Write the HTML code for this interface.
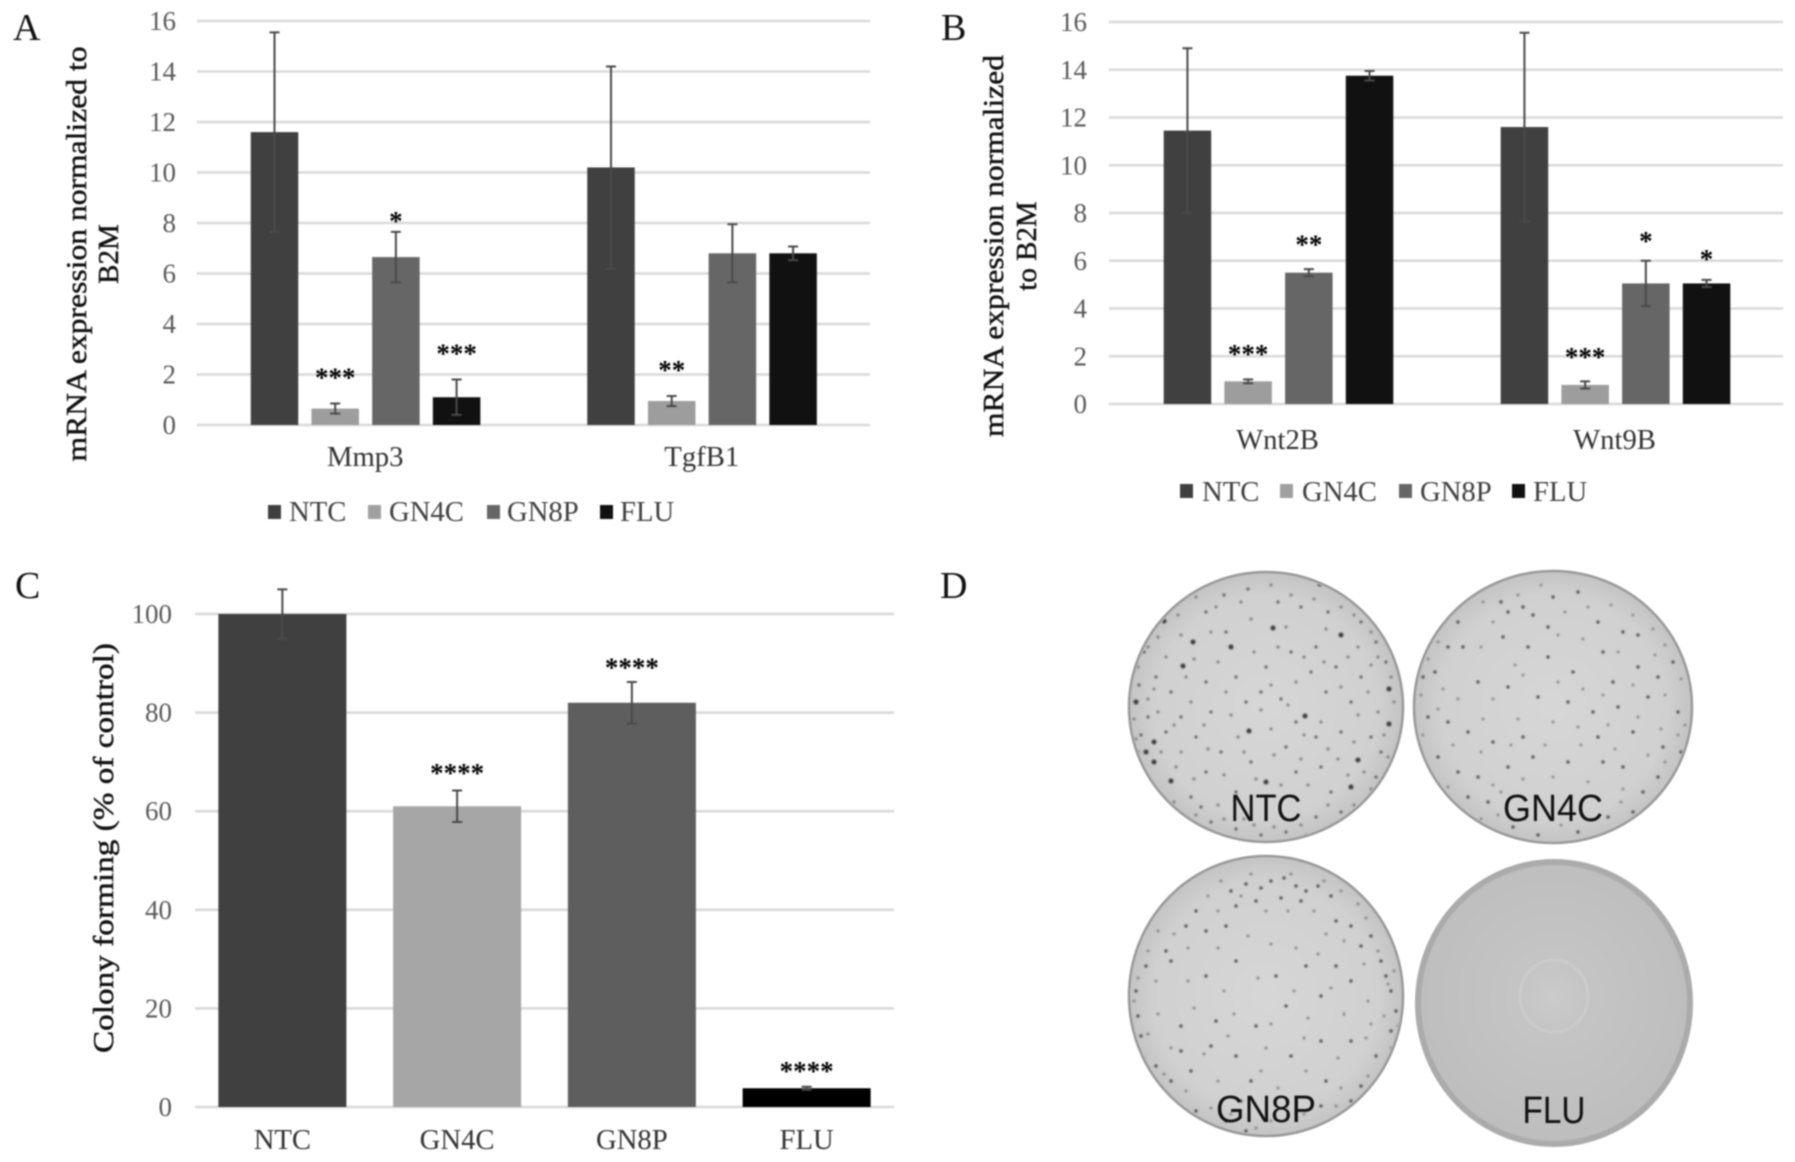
<!DOCTYPE html>
<html lang="en">
<head>
<meta charset="utf-8">
<title>Colony forming and mRNA expression figure</title>
<style>
html,body{margin:0;padding:0;background:#fff;width:1795px;height:1162px;overflow:hidden}
svg{display:block;filter:blur(.7px)}
text{font-family:"Liberation Serif",serif}
.tick{font-size:27px;fill:#595959}
.cat{font-size:28.7px;fill:#333;text-anchor:middle}
.leg{font-size:28.7px;fill:#404040}
.title{font-size:29px;fill:#111;stroke:#111;stroke-width:.45px;text-anchor:middle}
.panel{font-size:38px;fill:#111}
.sig{font-size:27px;font-weight:bold;fill:#000;text-anchor:middle}
.dishlabel{font-family:"Liberation Sans",sans-serif;font-size:38px;fill:#111;text-anchor:middle}
.dots{filter:blur(.7px)}
</style>
</head>
<body>
<svg id="fig" xmlns="http://www.w3.org/2000/svg" width="1795" height="1162" viewBox="0 0 1795 1162">
<defs>
<radialGradient id="dishFill" cx="50%" cy="50%" r="55%"><stop offset="0" stop-color="#d6d6d6"/><stop offset=".75" stop-color="#d0d0d0"/><stop offset="1" stop-color="#bcbcbc"/></radialGradient>
<radialGradient id="fluFill" cx="50%" cy="48%" r="55%"><stop offset="0" stop-color="#cacaca"/><stop offset=".25" stop-color="#c4c4c4"/><stop offset="1" stop-color="#bdbdbd"/></radialGradient>
<clipPath id="clipNtc"><ellipse rx="135" ry="133"/></clipPath>
<clipPath id="clipGn4c"><ellipse rx="137" ry="134"/></clipPath>
<clipPath id="clipGn8p"><ellipse rx="135" ry="138"/></clipPath>
</defs>

<g id="panelA"></g>
<g id="panelB"></g>
<g id="panelC"></g>

<text class="panel" x="13" y="40">A</text>
<text class="panel" x="941" y="40">B</text>
<text class="panel" x="15" y="598">C</text>
<text class="panel" x="940" y="598">D</text>

<text class="title" transform="translate(86,254) rotate(-90)" textLength="415" lengthAdjust="spacingAndGlyphs">mRNA expression normalized to</text>
<text class="title" transform="translate(118,254) rotate(-90)">B2M</text>
<text class="title" transform="translate(1003,246) rotate(-90)" textLength="382" lengthAdjust="spacingAndGlyphs">mRNA expression normalized</text>
<text class="title" transform="translate(1036,246) rotate(-90)">to B2M</text>
<text class="title" transform="translate(113,848) rotate(-90)" textLength="410" lengthAdjust="spacingAndGlyphs">Colony forming (% of control)</text>

<g>
<g><rect x="268" y="505" width="13" height="14" fill="#404040"/><text class="leg" x="289" y="521">NTC</text></g>
<g><rect x="368" y="505" width="13" height="14" fill="#a0a0a0"/><text class="leg" x="389" y="521">GN4C</text></g>
<g><rect x="487" y="505" width="13" height="14" fill="#666"/><text class="leg" x="507" y="521">GN8P</text></g>
<g><rect x="600" y="505" width="13" height="14" fill="#111"/><text class="leg" x="620" y="521">FLU</text></g>
</g>
<g>
<g><rect x="1180" y="484" width="13" height="14" fill="#404040"/><text class="leg" x="1202" y="501">NTC</text></g>
<g><rect x="1280" y="484" width="13" height="14" fill="#a0a0a0"/><text class="leg" x="1302" y="501">GN4C</text></g>
<g><rect x="1399" y="484" width="13" height="14" fill="#666"/><text class="leg" x="1420" y="501">GN8P</text></g>
<g><rect x="1512" y="484" width="13" height="14" fill="#111"/><text class="leg" x="1533" y="501">FLU</text></g>
</g>

<g>
<g transform="translate(1266,707)">
<ellipse rx="137" ry="135" fill="url(#dishFill)" stroke="#999" stroke-width="2.5"/>
<g clip-path="url(#clipNtc)">
<path class="dots" fill="none" stroke="#7a7a7a" stroke-width="3" stroke-linecap="round" d="M-70 -110h0M-50 -100h0M-25 -105h0M5 -122h0M25 -112h0M48 -108h0M75 -100h0M88 -92h0M105 -75h0M-88 -92h0M-108 -70h0M-118 -60h0M-128 -40h0M-85 -72h0M-55 -75h0M-15 -88h0M20 -80h0M60 -78h0M92 -60h0M112 -50h0M-100 -50h0M-72 -48h0M-48 -45h0M-12 -55h0M12 -60h0M38 -50h0M58 -45h0M82 -50h0M105 -42h0M125 -30h0M-112 -18h0M-80 -30h0M-40 -15h0M5 -22h0M30 -25h0M75 -20h0M102 -15h0M128 -5h0M-118 -8h0M-75 -5h0M-35 8h0M-5 3h0M22 -2h0M55 15h0M92 8h0M112 5h0M-132 12h0M-108 5h0M-92 18h0M-62 18h0M-28 30h0M5 22h0M38 28h0M62 42h0M88 35h0M118 28h0M-130 32h0M-105 45h0M-85 45h0M-58 42h0M-22 45h0M8 48h0M35 52h0M72 52h0M98 65h0M122 50h0M-118 68h0M-90 60h0M-72 72h0M-42 68h0M-10 72h0M15 78h0M42 78h0M82 68h0M105 82h0M-110 82h0M-92 95h0M-70 108h0M-48 98h0M-42 112h0M-22 112h0M-12 118h0M8 120h0M35 118h0M62 98h0M88 98h0M40 128h0"/>
<path class="dots" fill="none" stroke="#3a3a3a" stroke-width="5" stroke-linecap="round" d="M-35 -60h0M-73 -65h0M7 -79h0M75 -72h0M-112 35h0M-95 74h0M92 53h0M123 -18h0M123 17h0M-83 -41h0M39 9h0M-17 24h0M0 75h0M85 80h0M-130 -5h0M-102 -86h0M54 -123h0M-120 45h0M-112 55h0"/>
<path class="dots" fill="none" stroke="#555" stroke-width="3" stroke-linecap="round" d="M-60 -95h0M-42 -112h0M-18 -118h0M12 -105h0M35 -100h0M62 -95h0M95 -85h0M110 -65h0M120 -45h0M-122 -55h0M-110 -30h0M-127 -22h0M-95 -15h0M-60 -25h0M-30 -30h0M0 -40h0M25 -55h0M45 -35h0M70 -40h0M95 -30h0M60 -15h0M15 -8h0M-20 -5h0M-55 5h0M-85 10h0M-118 10h0M-125 28h0M-100 25h0M-70 30h0M-45 45h0M-15 55h0M20 40h0M50 30h0M75 25h0M105 30h0M115 45h0M-128 45h0M-125 60h0M-105 90h0M-75 90h0M-60 65h0M-30 85h0M30 65h0M55 60h0M65 85h0M100 95h0M-85 108h0M-55 115h0M-30 122h0M-5 128h0M20 125h0M50 110h0M75 105h0M-65 100h0M110 70h0M-40 -75h0M50 -60h0M-5 -15h0M30 15h0M85 -5h0"/>
</g>
<text class="dishlabel" x="0" y="114" textLength="71" lengthAdjust="spacingAndGlyphs">NTC</text>
</g>
<g transform="translate(1553,707)">
<ellipse rx="139" ry="136" fill="url(#dishFill)" stroke="#999" stroke-width="2.5"/>
<g clip-path="url(#clipGn4c)">
<path class="dots" fill="none" stroke="#808080" stroke-width="2.8" stroke-linecap="round" d="M-70 -105h0M-60 -85h0M-35 -112h0M-12 -122h0M12 -95h0M35 -100h0M58 -102h0M80 -92h0M100 -78h0M112 -62h0M-115 -65h0M-125 -48h0M-72 -60h0M-38 -42h0M5 -72h0M30 -68h0M65 -55h0M102 -52h0M128 -28h0M-110 -18h0M-95 -8h0M-60 -8h0M-30 -32h0M5 -25h0M30 -18h0M50 -12h0M80 -22h0M112 -12h0M-132 -12h0M-115 2h0M-70 12h0M-35 12h0M0 15h0M25 20h0M55 18h0M85 10h0M108 22h0M132 18h0M-130 28h0M-100 38h0M-72 45h0M-42 38h0M-8 38h0M28 38h0M62 42h0M95 48h0M125 28h0M-125 62h0M-105 80h0M-60 78h0M-30 72h0M0 70h0M35 75h0M70 82h0M112 55h0M-95 102h0M-72 112h0M-55 108h0M-28 112h0M8 118h0M38 112h0M68 95h0M102 92h0M-52 85h0"/>
<path class="dots" fill="none" stroke="#4a4a4a" stroke-width="3.2" stroke-linecap="round" d="M-45 -95h0M-30 -100h0M-20 -92h0M-52 -105h0M0 -110h0M25 -115h0M45 -85h0M70 -75h0M85 -72h0M-95 -85h0M-105 -60h0M-90 -60h0M-130 -30h0M-118 -35h0M-50 -70h0M-25 -60h0M-5 -50h0M20 -35h0M50 -55h0M85 -40h0M105 -30h0M120 -45h0M-75 -25h0M-45 -20h0M-15 -10h0M15 -5h0M40 5h0M65 0h0M95 -10h0M125 5h0M-125 10h0M-105 15h0M-85 25h0M-60 35h0M-30 30h0M45 30h0M80 25h0M110 40h0M128 45h0M-115 50h0M-95 65h0M-75 70h0M-45 60h0M-20 50h0M15 55h0M50 55h0M70 60h0M105 70h0M90 85h0M-65 95h0M-85 90h0M-40 120h0M-15 128h0M25 125h0M55 110h0M80 105h0M-5 -80h0M60 -25h0"/>
</g>
<text class="dishlabel" x="0" y="114" textLength="100" lengthAdjust="spacingAndGlyphs">GN4C</text>
</g>
<g transform="translate(1266,996)">
<ellipse rx="137" ry="140" fill="url(#dishFill)" stroke="#999" stroke-width="2.5"/>
<g clip-path="url(#clipGn8p)">
<path class="dots" fill="none" stroke="#7c7c7c" stroke-width="2.8" stroke-linecap="round" d="M-45 -115h0M-15 -122h0M25 -122h0M58 -115h0M75 -105h0M92 -92h0M-58 -100h0M-48 -85h0M-25 -100h0M0 -85h0M22 -85h0M48 -85h0M60 -62h0M78 -55h0M100 -78h0M112 -45h0M128 -25h0M-108 -65h0M-92 -62h0M-118 -45h0M-128 -18h0M-78 -48h0M-48 -48h0M-18 -60h0M5 -52h0M30 -48h0M52 -42h0M98 -32h0M122 -12h0M-110 -15h0M-78 -15h0M-42 -5h0M-8 -18h0M28 -5h0M65 -8h0M102 5h0M118 20h0M-132 5h0M-108 18h0M-72 12h0M-32 18h0M5 28h0M42 22h0M78 18h0M105 28h0M132 30h0M-118 38h0M-95 52h0M-62 58h0M-38 40h0M0 52h0M38 42h0M72 62h0M100 42h0M125 52h0M-122 62h0M-102 78h0M-80 95h0M-48 85h0M-5 75h0M12 92h0M40 75h0M75 92h0M102 80h0M-90 108h0M-55 112h0M-35 118h0M5 125h0M38 118h0M70 110h0M-10 132h0"/>
<path class="dots" fill="none" stroke="#4a4a4a" stroke-width="3.2" stroke-linecap="round" d="M-35 -105h0M-20 -112h0M-5 -108h0M5 -115h0M18 -118h0M30 -110h0M40 -105h0M52 -110h0M65 -100h0M-30 -90h0M-10 -95h0M15 -98h0M35 -95h0M-70 -85h0M-80 -70h0M-60 -65h0M-40 -70h0M70 -75h0M85 -70h0M95 -50h0M105 -60h0M115 -35h0M120 -20h0M125 -5h0M130 15h0M125 35h0M-100 -45h0M-120 -30h0M-130 -5h0M-128 20h0M-125 40h0M-95 -35h0M-60 -20h0M-30 -35h0M10 -20h0M40 -30h0M70 -30h0M85 -15h0M55 0h0M20 10h0M-10 30h0M-50 25h0M-85 30h0M-110 70h0M-95 85h0M-75 75h0M-55 50h0M-30 60h0M-15 85h0M25 60h0M55 45h0M85 45h0M110 60h0M115 85h0M95 90h0M60 85h0M-70 115h0M-40 125h0M-20 135h0M-25 105h0M55 110h0M85 105h0M-85 55h0"/>
</g>
<text class="dishlabel" x="0" y="126" textLength="100" lengthAdjust="spacingAndGlyphs">GN8P</text>
</g>
<g transform="translate(1554,1003)">
<ellipse rx="139" ry="144" fill="#ababab"/>
<ellipse rx="133" ry="138" fill="url(#fluFill)"/>
<ellipse cy="-7" rx="34" ry="36" fill="none" stroke="#cbcbcb" stroke-width="3"/>
<text class="dishlabel" x="0" y="120" textLength="63" lengthAdjust="spacingAndGlyphs">FLU</text>
</g>
</g>
</svg>

<script>
/* Panel A */
const categoriesA = ['Mmp3', 'TgfB1'];
const ntcA = [11.6, 10.2];
const gn4cA = [0.65, 0.95];
const gn8pA = [6.65, 6.8];
const fluA = [1.1, 6.8];
const ntcErrA = [3.95, 4.0];
const gn4cErrA = [0.2, 0.2];
const gn8pErrA = [1.0, 1.15];
const fluErrA = [0.7, 0.27];
const sigA = [['', ''], ['***', '**'], ['*', ''], ['***', '']];
const sigGapA = [[0, 0], [1.15, 1.15], [0.55, 0], [1.15, 0]];
const ticksA = [0, 2, 4, 6, 8, 10, 12, 14, 16];

/* Panel B */
const categoriesB = ['Wnt2B', 'Wnt9B'];
const ntcB = [11.45, 11.6];
const gn4cB = [0.95, 0.8];
const gn8pB = [5.5, 5.05];
const fluB = [13.75, 5.05];
const ntcErrB = [3.45, 3.95];
const gn4cErrB = [0.08, 0.15];
const gn8pErrB = [0.15, 0.95];
const fluErrB = [0.2, 0.15];
const sigB = [['', ''], ['***', '***'], ['**', '*'], ['', '*']];
const sigGapB = [[0, 0], [1.2, 1.15], [1.15, 0.95], [0, 1.0]];
const ticksB = [0, 2, 4, 6, 8, 10, 12, 14, 16];

/* Panel C */
const categoriesC = ['NTC', 'GN4C', 'GN8P', 'FLU'];
const colonyC = [100, 61, 82, 3.8];
const colonyErrC = [5, 3.2, 4.2, 0.3];
const sigC = ['', '****', '****', '****'];
const sigGapC = [0, 4.2, 3.6, 3.8];
const ticksC = [0, 20, 40, 60, 80, 100];

const seriesNames = ['ntc', 'gn4c', 'gn8p', 'flu'];
const NS = 'http://www.w3.org/2000/svg';

function mk(parent, tag, attrs, txt) {
  const el = document.createElementNS(NS, tag);
  for (const k in attrs) el.setAttribute(k, attrs[k]);
  if (txt !== undefined) el.textContent = txt;
  parent.appendChild(el);
  return el;
}
function linear(d0, d1, r0, r1) {
  return function (v) { return r0 + (v - d0) / (d1 - d0) * (r1 - r0); };
}
function drawYAxis(root, ticks, y, left, right, labelX) {
  ticks.forEach(function (t) {
    const line = mk(root, 'line', {x1: left, x2: right, y1: y(t), y2: y(t), stroke: '#d9d9d9', 'stroke-width': 2.6});
    
    
    const label = mk(root, 'text', {class: 'tick', x: labelX, y: y(t) + 9, 'text-anchor': 'end'}, String(t));
    
    
  });
}
function drawBar(root, name, cx, width, value, err, y, fill) {
  const bar = mk(root, 'rect', {x: cx - width / 2, y: y(value), width: width, height: y(0) - y(value), fill: fill});
  
  
  const eb = mk(root, 'path', {
    d: 'M' + (cx - 5) + ' ' + y(value + err) + 'h10M' + cx + ' ' + y(value + err) + 'V' + y(value - err) + 'M' + (cx - 5) + ' ' + y(value - err) + 'h10',
    fill: 'none', stroke: '#4a4a4a', 'stroke-width': 2
  });
  
  
}
function drawSig(root, name, cx, label, value, err, gap, y) {
  if (!label) return;
  const s = mk(root, 'text', {class: 'sig', x: cx, y: y(value + err + gap) + 12}, label);
  
  
}
function drawGrouped(root, cats, values, errs, sig, gaps, ticks, colors, L) {
  const y = linear(0, 16, L.y0, L.y16);
  const band = (L.right - L.left) / cats.length;
  drawYAxis(root, ticks, y, L.left, L.right, L.labelX);
  cats.forEach(function (cat, g) {
    const center = L.left + band * (g + 0.5);
    values.forEach(function (series, s) {
      const cx = center + L.shift + (s - 1.5) * L.step;
      const name = cat.toLowerCase() + '-' + seriesNames[s];
      drawBar(root, name, cx, L.barW, series[g], errs[s][g], y, colors[s]);
      drawSig(root, name, cx, sig[s][g], series[g], errs[s][g], gaps[s][g], y);
    });
    const t = mk(root, 'text', {class: 'cat', x: center, y: L.catY}, cat);
    
    
  });
}

drawGrouped(document.getElementById('panelA'), categoriesA,
  [ntcA, gn4cA, gn8pA, fluA], [ntcErrA, gn4cErrA, gn8pErrA, fluErrA], sigA, sigGapA, ticksA,
  ['#404040', '#9d9d9d', '#666666', '#111111'],
  {left: 197, right: 870, y0: 425, y16: 21, labelX: 176, step: 60.7, barW: 47.5, shift: 0.3, catY: 466});
drawGrouped(document.getElementById('panelB'), categoriesB,
  [ntcB, gn4cB, gn8pB, fluB], [ntcErrB, gn4cErrB, gn8pErrB, fluErrB], sigB, sigGapB, ticksB,
  ['#404040', '#9d9d9d', '#666666', '#111111'],
  {left: 1109, right: 1783, y0: 404, y16: 22, labelX: 1087, step: 60.7, barW: 47.5, shift: 1, catY: 449});

(function () {
  const root = document.getElementById('panelC');
  const y = linear(0, 100, 1107, 614);
  const left = 195, right = 894;
  const band = (right - left) / categoriesC.length;
  const colors = ['#404040', '#a6a6a6', '#5e5e5e', '#000000'];
  drawYAxis(root, ticksC, y, left, right, 172);
  categoriesC.forEach(function (cat, i) {
    const cx = left + band * (i + 0.5);
    const name = cat.toLowerCase();
    drawBar(root, name, cx, 128, colonyC[i], colonyErrC[i], y, colors[i]);
    drawSig(root, name, cx, sigC[i], colonyC[i], colonyErrC[i], sigGapC[i], y);
    const t = mk(root, 'text', {class: 'cat', x: cx, y: 1149}, cat);
    
    
  });
})();
</script>
</body>
</html>
